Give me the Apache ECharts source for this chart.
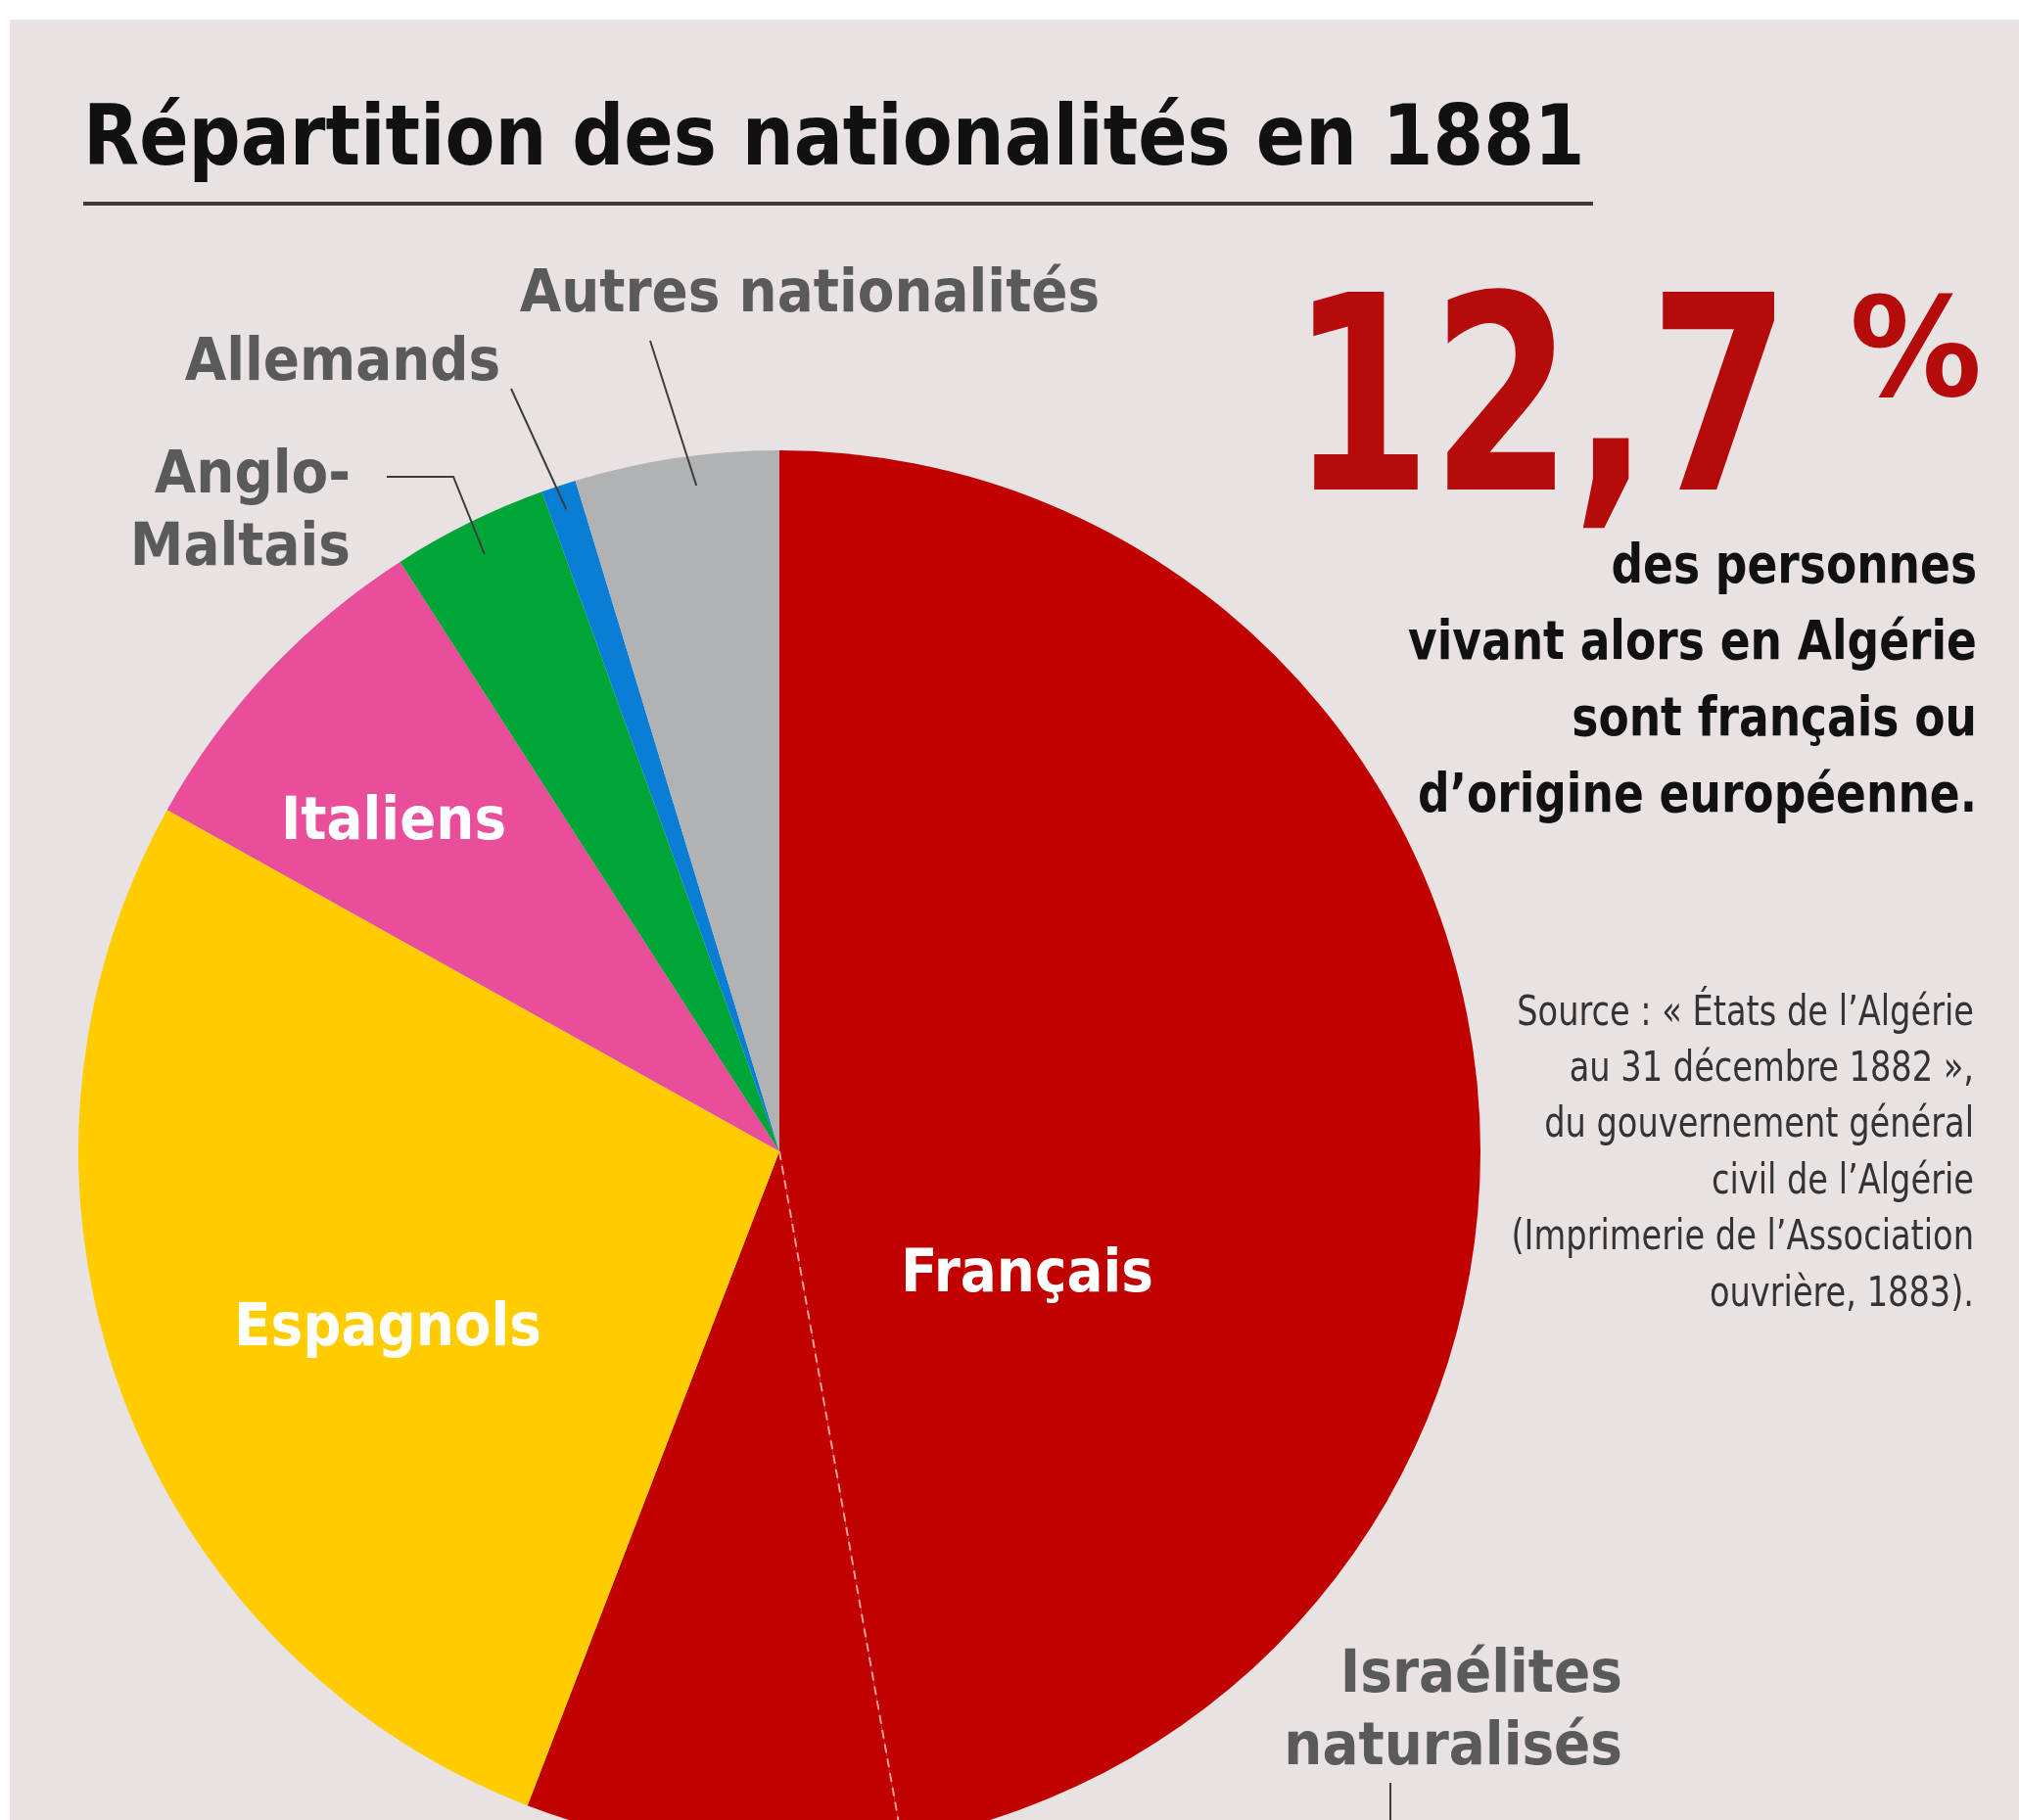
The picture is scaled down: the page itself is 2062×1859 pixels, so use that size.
<!DOCTYPE html>
<html lang="fr">
<head>
<meta charset="utf-8">
<title>Répartition des nationalités en 1881</title>
<script src="https://cdn.jsdelivr.net/npm/echarts@6/dist/echarts.min.js"></script>
<style>
  html, body { margin: 0; padding: 0; background: #fff; }
  #chart { width: 2062px; height: 1859px; }
</style>
</head>
<body>
<div id="chart"></div>
<script>
const nationalites = ['Français', 'Israélites\nnaturalisés', 'Espagnols', 'Italiens', 'Anglo-\nMaltais', 'Allemands', 'Autres nationalités']
const parts = [47.2, 8.65, 27.25, 7.8, 3.6, 0.8, 4.7]
const couleurs = ['#c10000', '#c10000', '#ffcc00', '#e84e9a', '#00a538', '#0a7ed4', '#b1b2b4']
// étiquettes écrites en blanc dans la part
const etiquettesInternes = ['Français', 'Espagnols', 'Italiens']

// Encadré
const chiffreCle = '12,7'
const texteCle = ['des personnes', 'vivant alors en Algérie', 'sont français ou', 'd’origine européenne.']
const source = [
  'Source : « États de l’Algérie',
  'au 31 décembre 1882 »,',
  'du gouvernement général',
  'civil de l’Algérie',
  '(Imprimerie de l’Association',
  'ouvrière, 1883).'
]

const FONT = "'Liberation Sans Narrow', 'DejaVu Sans Condensed', 'Roboto Condensed', 'Open Sans', sans-serif"
const GRIS = '#5a5a5a'

// Géométrie du camembert
const CENTRE = [796, 1176]
const RAYON = 716
const total = parts.reduce((a, b) => a + b, 0)

// position des étiquettes
const positionsEtiquettes = [
  { x: 1049, y: 1303, align: 'center' },
  { x: 1657, y: 1749, align: 'right' },
  { x: 396, y: 1358, align: 'center' },
  { x: 402, y: 841, align: 'center' },
  { x: 358, y: 524, align: 'right' },
  { x: 350, y: 372, align: 'center' },
  { x: 827, y: 302, align: 'center' }
]

const donnees = nationalites.map((nom, i) => {
  const interne = etiquettesInternes.includes(nom)
  return {
    name: nom,
    value: parts[i],
    itemStyle: { color: couleurs[i] },
    label: interne
      ? { color: '#fff', fontSize: 61 }
      : { color: GRIS, fontSize: 61, lineHeight: 74 }
  }
})

const chart = echarts.init(document.getElementById('chart'))

chart.setOption({
  animation: false,
  backgroundColor: '#fff',
  polar: { center: CENTRE, radius: RAYON },
  angleAxis: { type: 'value', min: 0, max: total, startAngle: 90, clockwise: true, show: false },
  radiusAxis: { type: 'value', min: 0, max: 1, show: false },
  series: [
    {
      type: 'pie',
      center: CENTRE,
      radius: [0, RAYON],
      startAngle: 90,
      clockwise: true,
      silent: true,
      avoidLabelOverlap: false,
      data: donnees,
      label: {
        show: true,
        position: 'inside',
        overflow: 'none',
        fontFamily: FONT,
        fontWeight: 'bold',
        formatter: '{b}'
      },
      labelLine: { show: false },
      labelLayout: p => ({ ...positionsEtiquettes[p.dataIndex], verticalAlign: 'middle' }),
      emphasis: { disabled: true }
    },
    {
      // séparation en pointillés Français / Israélites naturalisés
      type: 'line',
      coordinateSystem: 'polar',
      silent: true,
      z: 3,
      symbol: 'none',
      clip: false,
      lineStyle: { color: '#f3a0a0', width: 2, type: [9, 6] },
      data: [[0, parts[0]], [1, parts[0]]]
    }
  ]
})

// extrémité intérieure d'un trait de rappel (f = position dans la part)
const pointDansPart = (i, r, f) => {
  const debut = parts.slice(0, i).reduce((a, b) => a + b, 0)
  return chart.convertToPixel({ polarIndex: 0 }, [r, debut + parts[i] * f])
}

const trait = pts => ({
  type: 'polyline',
  z: 10,
  silent: true,
  shape: { points: pts },
  style: { stroke: '#3c3c3c', lineWidth: 2, fill: null }
})

// texte libre, comprimé horizontalement autour de son point d'ancrage
const texte = (x, y, sx, style) => ({
  type: 'text', x, y, scaleX: sx, silent: true, z: 5, style
})

chart.setOption({
  graphic: [
    // fond de l'encadré
    { type: 'rect', z: -10, silent: true, shape: { x: 10, y: 20, width: 2052, height: 1839 }, style: { fill: '#e8e2e2' } },
    // titre
    texte(85, 146, 0.96, { text: 'Répartition des nationalités en 1881', font: 'bold 86px ' + FONT, fill: '#111', textVerticalAlign: 'middle' }),
    { type: 'line', silent: true, shape: { x1: 85, y1: 208, x2: 1627, y2: 208 }, style: { stroke: '#3a3a3a', lineWidth: 4 } },
    // chiffre clé
    texte(1318, 428, 0.83, { text: chiffreCle, font: 'bold 277px ' + FONT, fill: '#b50b0b', textVerticalAlign: 'middle' }),
    texte(1889, 368, 1.07, { text: '%', font: 'bold 140px ' + FONT, fill: '#b50b0b', textVerticalAlign: 'middle' }),
    texte(2019, 542, 0.92, { text: texteCle.join('\n'), font: 'bold 55px ' + FONT, fill: '#111', lineHeight: 78, textAlign: 'right', textVerticalAlign: 'top' }),
    // source
    texte(2016, 1007, 0.89, { text: source.join('\n'), font: '42px ' + FONT, fill: '#333', lineHeight: 57.4, textAlign: 'right', textVerticalAlign: 'top' }),
    // traits de rappel
    trait([[664, 348], pointDansPart(6, 0.957, 0.58)]),
    trait([[522, 397], pointDansPart(5, 0.965, 0.5)]),
    trait([[395, 487], [463, 487], pointDansPart(4, 0.95, 0.5)]),
    trait([[1420, 1821], [1420, 1870]])
  ]
})
</script>
</body>
</html>
